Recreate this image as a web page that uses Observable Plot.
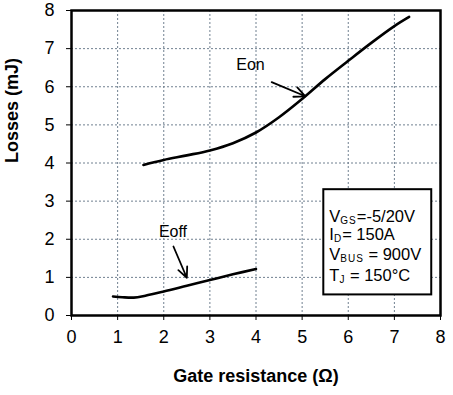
<!DOCTYPE html>
<html>
<head>
<meta charset="utf-8">
<script src="https://cdn.jsdelivr.net/npm/d3@7"></script>
<script src="https://cdn.jsdelivr.net/npm/@observablehq/plot@0.6"></script>
<style>
  html, body { margin: 0; padding: 0; background: #fff; }
</style>
</head>
<body>
<div id="chart"></div>
<script>
// ---- data ----
const xTicks = [0, 1, 2, 3, 4, 5, 6, 7, 8];
const yTicks = [0, 1, 2, 3, 4, 5, 6, 7, 8];
const gridTicks = [1, 2, 3, 4, 5, 6, 7];

const eonR    = [1.56, 2.0, 2.5, 3.0, 3.5, 4.0, 4.5, 5.0, 5.5, 6.0, 6.5, 7.0, 7.32];
const eonLoss = [3.95, 4.08, 4.2, 4.33, 4.52, 4.8, 5.2, 5.68, 6.2, 6.68, 7.15, 7.59, 7.83];

const eoffR    = [0.9, 1.1, 1.35, 1.6, 2.0, 2.5, 3.0, 3.5, 4.0];
const eoffLoss = [0.5, 0.48, 0.47, 0.52, 0.63, 0.78, 0.93, 1.08, 1.22];

const seriesNames = ["Eon", "Eoff"];
const labelX = [3.88, 2.2];
const labelY = [6.58, 2.19];
const arrowX1 = [4.34, 2.21];
const arrowY1 = [6.12, 1.81];
const arrowX2 = [5.07, 2.5];
const arrowY2 = [5.75, 0.99];

const boxX = [5.47, 7.81];
const boxY = [0.54, 3.3];
const condMain = ["V", "I", "V", "T"];
const condSub  = ["GS", "D", "BUS", "J"];
const condRest = ["=-5/20V", "= 150A", " = 900V", " = 150°C"];
const condY    = [2.55, 2.07, 1.55, 1.0];
const condX    = 5.6;

const xLabel = "Gate resistance (Ω)";
const yLabel = "Losses (mJ)";

// ---- build ----
const eon = eonR.map((r, i) => ({r, v: eonLoss[i]}));
const eoff = eoffR.map((r, i) => ({r, v: eoffLoss[i]}));
const labels = seriesNames.map((s, i) => ({s, x: labelX[i], y: labelY[i]}));
const arrows = seriesNames.map((s, i) => ({x1: arrowX1[i], y1: arrowY1[i], x2: arrowX2[i], y2: arrowY2[i]}));

const font = "'Liberation Sans', Arial, sans-serif";

const chart = Plot.plot({
  width: 453,
  height: 395,
  marginLeft: 71,
  marginRight: 13,
  marginTop: 10,
  marginBottom: 80,
  style: {fontFamily: font},
  x: {domain: [0, 8]},
  y: {domain: [0, 8]},
  marks: [
    Plot.ruleX(gridTicks, {stroke: "slategray", strokeWidth: 1, strokeDasharray: "2,2"}),
    Plot.ruleY(gridTicks, {stroke: "slategray", strokeWidth: 1, strokeDasharray: "2,2"}),
    Plot.axisX(xTicks, {tickSize: 5, tickPadding: 10, fontSize: 18, label: null}),
    Plot.axisY(yTicks, {tickSize: 5, tickPadding: 12, fontSize: 18, label: null}),
    Plot.frame({strokeWidth: 2.5}),
    Plot.line(eon, {x: "r", y: "v", curve: "catmull-rom", stroke: "black", strokeWidth: 2.6}),
    Plot.line(eoff, {x: "r", y: "v", curve: "catmull-rom", stroke: "black", strokeWidth: 2.6}),
    Plot.arrow(arrows, {x1: "x1", y1: "y1", x2: "x2", y2: "y2", stroke: "black", strokeWidth: 1.8, headLength: 10, headAngle: 50}),
    Plot.text(labels, {x: "x", y: "y", text: "s", fontSize: 16, fill: "black"}),
    Plot.rect([{x1: boxX[0], x2: boxX[1], y1: boxY[0], y2: boxY[1]}], {x1: "x1", x2: "x2", y1: "y1", y2: "y2", fill: "white", stroke: "black", strokeWidth: 2}),
    Plot.text([xLabel], {frameAnchor: "bottom", dy: 66, fontSize: 18, fontWeight: "bold", fill: "black"}),
    Plot.text([yLabel], {frameAnchor: "left", dx: -59, rotate: -90, fontSize: 18, fontWeight: "bold", fill: "black"})
  ]
});

// condition text with subscripts, placed via the chart's scales
const sx = chart.scale("x"), sy = chart.scale("y");
const g = d3.select(chart).append("g")
  .attr("font-family", font)
  .attr("text-anchor", "start")
  .attr("fill", "black");
condMain.forEach((m, i) => {
  const t = g.append("text")
    .attr("x", sx.apply(condX))
    .attr("y", sy.apply(condY[i]))
    .attr("font-size", 16.5)
    .attr("text-anchor", "start")
    .attr("dominant-baseline", "middle");
  t.append("tspan").text(m);
  t.append("tspan").attr("font-size", 10).attr("dy", 3).attr("letter-spacing", 1).text(condSub[i]);
  t.append("tspan").attr("dy", -3).text(condRest[i]);
});

document.getElementById("chart").appendChild(chart);
</script>
</body>
</html>
